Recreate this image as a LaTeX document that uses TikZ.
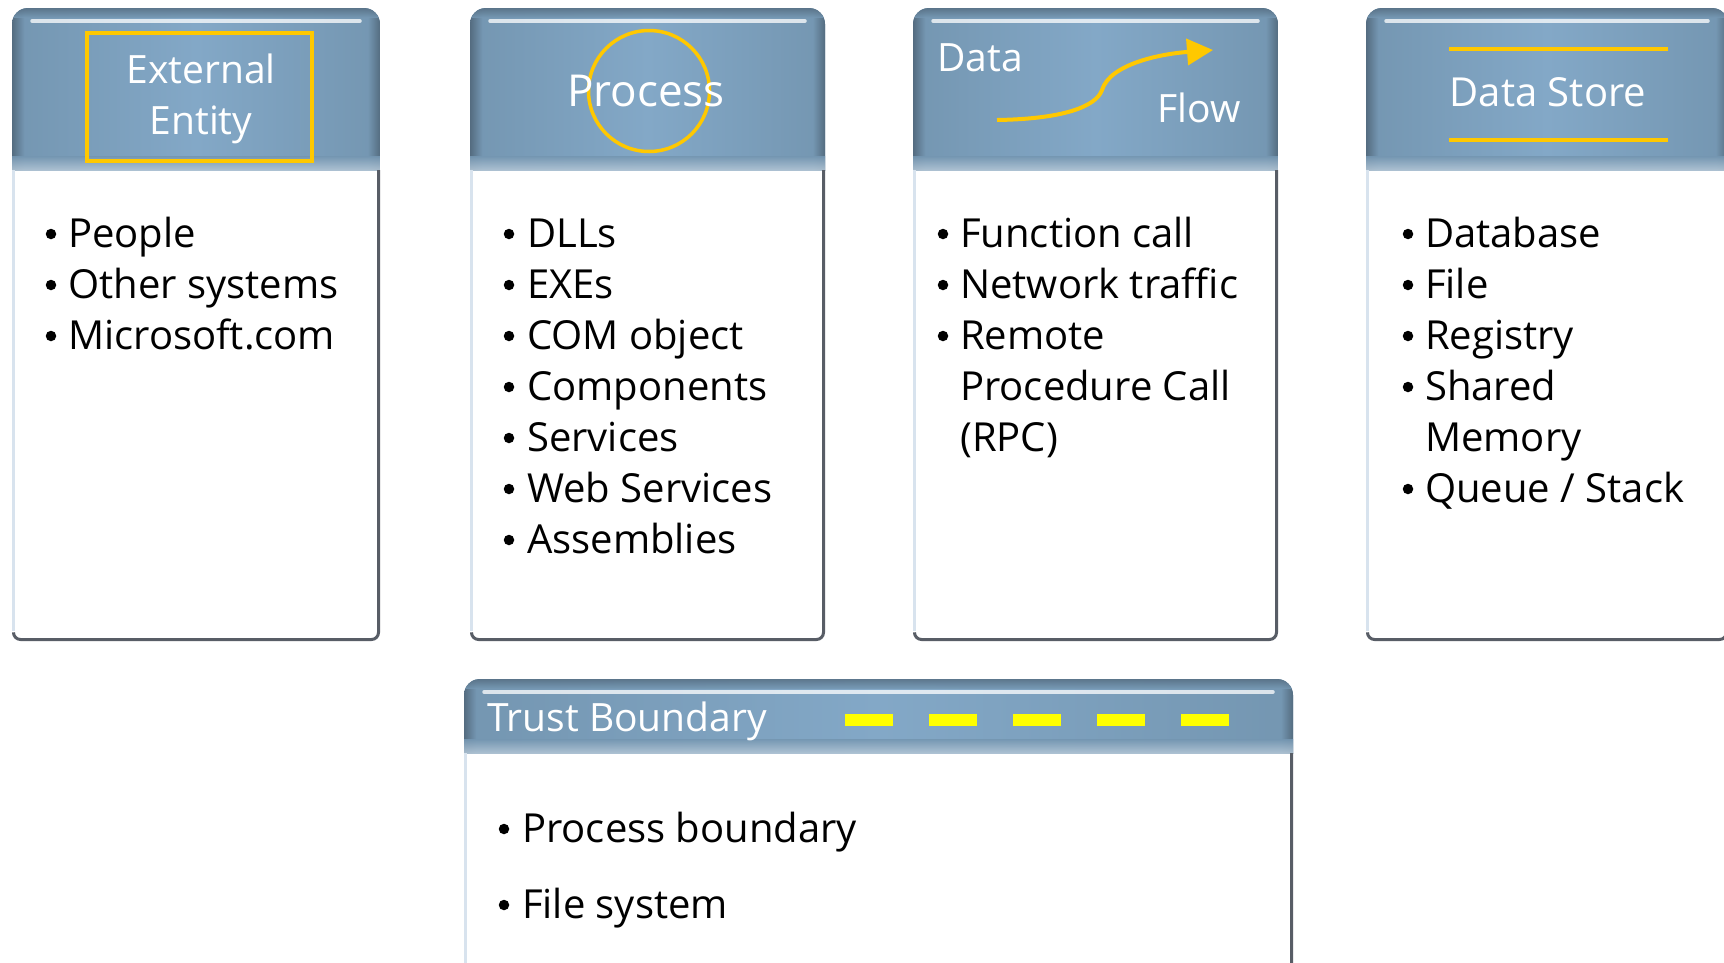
\documentclass[tikz,border=0pt]{standalone}
\usepackage{fontspec}
\setmainfont{Open Sans}
\usetikzlibrary{arrows.meta}

\definecolor{hdM}{RGB}{131,168,199}
\definecolor{hdE}{RGB}{116,150,177}
\definecolor{hdD}{RGB}{84,108,128}
\definecolor{hdL}{RGB}{178,197,213}
\definecolor{edgeL}{RGB}{216,227,238}
\definecolor{edgeR}{RGB}{88,93,102}
\definecolor{yelGold}{RGB}{255,200,0}
\definecolor{yelBright}{RGB}{255,255,0}

% glossy blue header strip with rounded top corners
\newcommand\hdr[4]{%
  \begin{scope}
    \clip (#1,#3) rectangle (#2,#4);
    \clip[rounded corners=16pt] (#1,#3) rectangle (#2,#4+40);
    \shade[left color=hdE,right color=hdE,middle color=hdM] (#1,#3) rectangle (#2,#4);
    \shade[left color=hdD,right color=hdE] (#1,#3) rectangle (#1+12,#4);
    \shade[left color=hdE,right color=hdD] (#2-12,#3) rectangle (#2,#4);
    \shade[top color=hdD,bottom color=hdE,opacity=0.8] (#1,#3) rectangle (#2,#3+9);
    \shade[top color=hdE,bottom color=hdL,opacity=0.9] (#1,#4-14) rectangle (#2,#4);
    \draw[white,opacity=0.75,line width=3.5pt,line cap=round] (#1+20,#3+13) -- (#2-20,#3+13);
  \end{scope}}

% white body below a header: light left edge, dark right and bottom edges
\newcommand\bodyframe[4]{%
  \draw[edgeL,line width=3pt] (#1+1.5,#3) -- (#1+1.5,#4-10);
  \draw[edgeR,line width=3pt,rounded corners=7pt]
    (#1+1.5,#4-7) -- (#1+1.5,#4-1.5) -- (#2-1.5,#4-1.5) -- (#2-1.5,#3);}

% one bulleted line: name, bullet x, text x, baseline y, text
\newcommand\bitem[5]{%
  \node[bul] (#1b) at (#2,#4-13) {};
  \node[itm] (#1) at (#3,#4) {#5};}

\begin{document}
\begin{tikzpicture}[x=1pt,y=-1pt,
  bul/.style={circle,fill=black,inner sep=0pt,minimum size=10.5pt},
  itm/.style={anchor=base west,inner sep=0pt,font=\fontsize{40}{51}\selectfont},
  hdtxt/.style={anchor=base,inner sep=0pt,text=white,font=\fontsize{39}{48}\selectfont},
  hdtxtw/.style={hdtxt,anchor=base west},
  hdtxte/.style={hdtxt,anchor=base east},
  ymark/.style={draw=yelGold,line width=3.5pt}]
\useasboundingbox (0,0) rectangle (1724,962);
\fill[white] (0,0) rectangle (1724,962);

% ---- External Entity ----
\hdr{12}{380}{8}{170}
\bodyframe{12}{380}{170}{641}
\draw[ymark] (87,33) rectangle (312,161);
\node[hdtxt] (ext1) at (201,83) {External};
\node[hdtxt] (ext2) at (201,134) {Entity};
\bitem{e1}{51}{68}{247}{People}
\bitem{e2}{51}{68}{298}{Other systems}
\bitem{e3}{51}{68}{349}{Microsoft.com}

% ---- Process ----
\hdr{470}{825}{8}{170}
\bodyframe{470}{825}{170}{641}
\draw[ymark] (649,91) circle (60.5);
\node[hdtxt,font=\fontsize{44}{52}\selectfont] (proc) at (646,106) {Process};
\bitem{p1}{509}{527}{247}{DLLs}
\bitem{p2}{509}{527}{298}{EXEs}
\bitem{p3}{509}{527}{349}{COM object}
\bitem{p4}{509}{527}{400}{Components}
\bitem{p5}{509}{527}{451}{Services}
\bitem{p6}{509}{527}{502}{Web Services}
\bitem{p7}{509}{527}{553}{Assemblies}

% ---- Data Flow ----
\hdr{913}{1278}{8}{170}
\bodyframe{913}{1278}{170}{641}
\node[hdtxtw] (df1) at (937,71) {Data};
\node[hdtxte] (df2) at (1241,122) {Flow};
\draw[yelGold,line width=4pt,-{Triangle[length=26pt,width=26pt]}]
  (997,120) .. controls (1062,119) and (1096,107) .. (1102,90)
  .. controls (1110,64) and (1160,54) .. (1213,50);
\bitem{f1}{943}{960}{247}{Function call}
\bitem{f2}{943}{960}{298}{Network traffic}
\bitem{f3}{943}{960}{349}{Remote}
\node[itm] (f3b) at (960,400) {Procedure Call};
\node[itm] (f3c) at (960,451) {(RPC)};

% ---- Data Store ----
\hdr{1366}{1728}{8}{170}
\bodyframe{1366}{1728}{170}{641}
\draw[ymark,line width=4pt] (1449,49) -- (1668,49);
\draw[ymark,line width=4pt] (1449,140) -- (1668,140);
\node[hdtxt,font=\fontsize{40}{48}\selectfont] (ds) at (1548,106) {Data Store};
\bitem{s1}{1408}{1425}{247}{Database}
\bitem{s2}{1408}{1425}{298}{File}
\bitem{s3}{1408}{1425}{349}{Registry}
\bitem{s4}{1408}{1425}{400}{Shared}
\node[itm] (s4b) at (1425,451) {Memory};
\bitem{s5}{1408}{1425}{502}{Queue / Stack}

% ---- Trust Boundary ----
\hdr{464}{1293}{679}{753}
\bodyframe{464}{1293}{753}{1010}
\node[hdtxtw] (tb) at (487,731) {Trust Boundary};
\foreach \x in {845,929,1013,1097,1181}
  \fill[yelBright] (\x,714) rectangle (\x+48,726);
\bitem{t1}{504}{522}{842}{Process boundary}
\bitem{t2}{504}{522}{918}{File system}
\end{tikzpicture}
\end{document}
